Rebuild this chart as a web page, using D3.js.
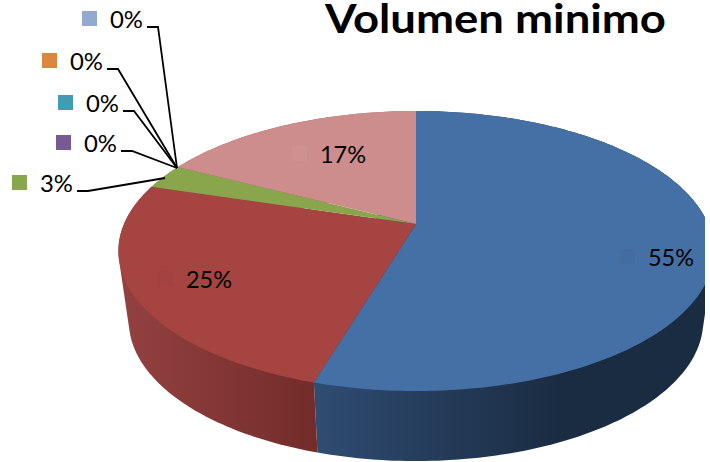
<!DOCTYPE html>
<html>
<head>
<meta charset="utf-8">
<script src="https://cdn.jsdelivr.net/npm/d3@7"></script>
<style>
  html, body { margin: 0; padding: 0; background: #fff; }
  svg { display: block; }
  text { font-family: Lato, "Open Sans", sans-serif; fill: #000; }
</style>
</head>
<body>
<div id="chart"></div>
<script>
// Data
const titleText = "Volumen minimo";
const categories = ["A", "B", "C", "D", "E", "F", "G", "H"];
const values = [54.6, 25.1, 2.9, 0, 0, 0, 0, 17.4];

// Colours per category
const colors = ["#4570a5", "#a54441", "#8aa64c", "#775a94", "#439bb3", "#dc873f", "#93a9cf", "#cd8d8c"];
const keyColors = ["#436ca0", "#a34341", "#8aa64c", "#775a94", "#439bb3", "#dc873f", "#93a9cf", "#cf9190"];
const wallStops = [
  ["#2f4c72", "#1a2c42"],
  ["#934140", "#722c2a"]
];

// Layout of labels and leader lines
const labelLayout = [
  { key: [620, 249], text: [648, 266] },
  { key: [158, 271], text: [186, 288] },
  { key: [12, 175], text: [40, 192], leader: [[77, 191], [88, 191], [165, 178]] },
  { key: [56, 135], text: [84, 152], leader: [[121, 151], [132, 151], [177, 168]] },
  { key: [58, 95], text: [86, 112], leader: [[123, 111], [134, 111], [177, 168]] },
  { key: [42, 53], text: [70, 70], leader: [[107, 69], [118, 69], [177, 168]] },
  { key: [82, 11], text: [110, 28], leader: [[147, 27], [158, 27], [177, 168]] },
  { key: [292, 146], text: [320, 163] }
];

const width = 710;
const height = 462;

// Perspective disc: apex, half sizes and tilt
const apex = { x: 416, y: 224 };
const disc = { c: 292, b: 134.8, k: 0.193 };
const depth = 70;
const baseScale = 0.965;

function project(angle) {
  const u = Math.sin(angle);
  const v = -Math.cos(angle);
  const w = 1 - disc.k * v;
  return [apex.x + disc.c * u / w, apex.y + disc.b * v / w];
}

function projectBase(angle) {
  const p = project(angle);
  return [apex.x + (p[0] - apex.x) * baseScale, p[1] + depth];
}

function rimAngles(d) {
  const n = Math.max(2, Math.ceil((d.endAngle - d.startAngle) / (Math.PI / 180)));
  return d3.range(n + 1).map((i) => d.startAngle + (d.endAngle - d.startAngle) * i / n);
}

const pie = d3.pie().sort(null).value((d) => d);
const arcs = pie(values);
const line = d3.line();

const svg = d3.select("#chart").append("svg").attr("width", width).attr("height", height);
const defs = svg.append("defs");

defs.append("clipPath").attr("id", "clip").append("rect")
  .attr("x", 0).attr("y", 0).attr("width", 705).attr("height", height);

// Blue wall gets darker up to x=560, red wall from x=122 to x=316
const blueGrad = defs.append("linearGradient").attr("id", "wall0")
  .attr("gradientUnits", "userSpaceOnUse").attr("x1", 315).attr("x2", 560).attr("y1", 0).attr("y2", 0);
blueGrad.append("stop").attr("offset", 0).attr("stop-color", wallStops[0][0]);
blueGrad.append("stop").attr("offset", 1).attr("stop-color", wallStops[0][1]);
const redGrad = defs.append("linearGradient").attr("id", "wall1")
  .attr("gradientUnits", "userSpaceOnUse").attr("x1", 122).attr("x2", 316).attr("y1", 0).attr("y2", 0);
redGrad.append("stop").attr("offset", 0).attr("stop-color", wallStops[1][0]);
redGrad.append("stop").attr("offset", 1).attr("stop-color", wallStops[1][1]);

const pieG = svg.append("g").attr("clip-path", "url(#clip)");

// Side walls first, the top of the pie covers the hidden part.
// Hull of both rims so the silhouette is closed at the left and right
pieG.selectAll("path.wall")
  .data(arcs.filter((d) => d.value > 0))
  .join("path")
  .attr("class", "wall")
  .attr("fill", (d) => (d.index < 2 ? `url(#wall${d.index})` : d3.color(colors[d.index]).darker(1)))
  .attr("d", (d) => {
    const a = rimAngles(d);
    return line(d3.polygonHull(a.map(project).concat(a.map(projectBase)))) + "Z";
  });

// Top slices
pieG.selectAll("path.slice")
  .data(arcs.filter((d) => d.value > 0))
  .join("path")
  .attr("class", "slice")
  .attr("fill", (d) => colors[d.index])
  .attr("d", (d) => line([[apex.x, apex.y]].concat(rimAngles(d).map(project))) + "Z");

// Legend keys and labels
const labels = arcs.map((d, i) => ({
  value: d.value,
  color: keyColors[i],
  key: labelLayout[i].key,
  text: labelLayout[i].text,
  leader: labelLayout[i].leader
}));

svg.selectAll("rect.key")
  .data(labels)
  .join("rect")
  .attr("class", "key")
  .attr("x", (d) => d.key[0])
  .attr("y", (d) => d.key[1])
  .attr("width", 15)
  .attr("height", 15)
  .attr("fill", (d) => d.color);

svg.selectAll("path.leader")
  .data(labels.filter((d) => d.leader))
  .join("path")
  .attr("class", "leader")
  .attr("fill", "none")
  .attr("stroke", "#000")
  .attr("stroke-width", 1.8)
  .attr("d", (d) => line(d.leader));

svg.selectAll("text.pct")
  .data(labels)
  .join("text")
  .attr("class", "pct")
  .attr("x", (d) => d.text[0])
  .attr("y", (d) => d.text[1])
  .attr("font-size", 23)
  .attr("lengthAdjust", "spacingAndGlyphs")
  .attr("textLength", (d) => (Math.round(d.value) < 10 ? 33 : 46))
  .text((d) => d3.format(".0f")(d.value) + "%");

svg.append("text")
  .attr("x", 325)
  .attr("y", 33)
  .attr("font-size", 40)
  .attr("font-weight", 700)
  .attr("textLength", 341)
  .attr("lengthAdjust", "spacingAndGlyphs")
  .text(titleText);
</script>
</body>
</html>
